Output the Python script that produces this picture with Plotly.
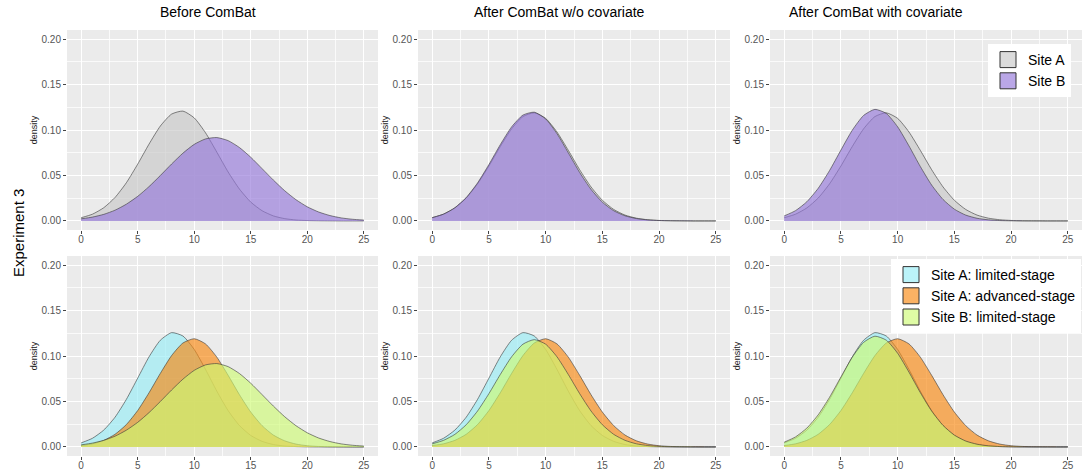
import plotly.graph_objects as go

# ---------------- data ----------------
x_vals = list(range(26))

# Experiment 3, top row: Site A / Site B
before_site_A = [0.0035, 0.0074, 0.0145, 0.0258, 0.0420, 0.0624, 0.0844, 0.1043, 0.1175, 0.1208, 0.1133, 0.0969, 0.0756,
                 0.0538, 0.0350, 0.0207, 0.0112, 0.0055, 0.0025, 0.0010, 0.0004, 0.0002, 0.0001, 0.0, 0.0, 0.0]
before_site_B = [0.0023, 0.0042, 0.0072, 0.0118, 0.0184, 0.0270, 0.0377, 0.0499, 0.0626, 0.0745, 0.0842, 0.0902, 0.0917,
                 0.0883, 0.0807, 0.0700, 0.0575, 0.0449, 0.0332, 0.0233, 0.0155, 0.0098, 0.0059, 0.0033, 0.0018, 0.0009]
nocov_site_A = [0.0035, 0.0074, 0.0143, 0.0252, 0.0408, 0.0604, 0.0818, 0.1013, 0.1148, 0.1189, 0.1128, 0.0978, 0.0776,
                0.0563, 0.0374, 0.0227, 0.0126, 0.0064, 0.0030, 0.0013, 0.0005, 0.0002, 0.0001, 0.0, 0.0, 0.0]
nocov_site_B = [0.0036, 0.0075, 0.0145, 0.0257, 0.0418, 0.0620, 0.0838, 0.1034, 0.1164, 0.1196, 0.1122, 0.0960, 0.0749,
                0.0533, 0.0347, 0.0206, 0.0112, 0.0056, 0.0026, 0.0011, 0.0004, 0.0002, 0.0001, 0.0, 0.0, 0.0]
withcov_site_A = [0.0035, 0.0074, 0.0143, 0.0252, 0.0408, 0.0604, 0.0818, 0.1013, 0.1148, 0.1189, 0.1128, 0.0978, 0.0776,
                  0.0563, 0.0374, 0.0227, 0.0126, 0.0064, 0.0030, 0.0013, 0.0005, 0.0002, 0.0001, 0.0, 0.0, 0.0]
withcov_site_B = [0.0055, 0.0113, 0.0211, 0.0359, 0.0554, 0.0779, 0.0997, 0.1160, 0.1227, 0.1182, 0.1035, 0.0825, 0.0598,
                  0.0394, 0.0236, 0.0129, 0.0064, 0.0029, 0.0012, 0.0004, 0.0001, 0.0, 0.0, 0.0, 0.0, 0.0]

# Experiment 3, bottom row: stage groups
before_A_limited = [0.0044, 0.0095, 0.0185, 0.0327, 0.0523, 0.0756, 0.0990, 0.1173, 0.1257, 0.1220, 0.1072, 0.0852, 0.0613,
                    0.0399, 0.0235, 0.0126, 0.0061, 0.0026, 0.0010, 0.0004, 0.0001, 0.0, 0.0, 0.0, 0.0, 0.0]
before_A_advanced = [0.0015, 0.0034, 0.0072, 0.0139, 0.0246, 0.0400, 0.0595, 0.0808, 0.1005, 0.1143, 0.1190, 0.1133, 0.0987,
                     0.0787, 0.0574, 0.0383, 0.0234, 0.0130, 0.0067, 0.0031, 0.0013, 0.0005, 0.0002, 0.0001, 0.0, 0.0]
before_B_limited = [0.0023, 0.0042, 0.0072, 0.0118, 0.0184, 0.0270, 0.0377, 0.0499, 0.0626, 0.0745, 0.0842, 0.0902, 0.0917,
                    0.0883, 0.0807, 0.0700, 0.0575, 0.0449, 0.0332, 0.0233, 0.0155, 0.0098, 0.0059, 0.0033, 0.0018, 0.0009]
nocov_A_limited = [0.0044, 0.0095, 0.0185, 0.0327, 0.0523, 0.0756, 0.0990, 0.1173, 0.1257, 0.1220, 0.1072, 0.0852, 0.0613,
                   0.0399, 0.0235, 0.0126, 0.0061, 0.0026, 0.0010, 0.0004, 0.0001, 0.0, 0.0, 0.0, 0.0, 0.0]
nocov_A_advanced = [0.0015, 0.0034, 0.0072, 0.0139, 0.0246, 0.0400, 0.0595, 0.0808, 0.1005, 0.1143, 0.1190, 0.1133, 0.0987,
                    0.0787, 0.0574, 0.0383, 0.0234, 0.0130, 0.0067, 0.0031, 0.0013, 0.0005, 0.0002, 0.0001, 0.0, 0.0]
nocov_B_limited = [0.0034, 0.0072, 0.0138, 0.0244, 0.0395, 0.0586, 0.0796, 0.0991, 0.1130, 0.1180, 0.1130, 0.0991, 0.0796,
                   0.0586, 0.0395, 0.0244, 0.0138, 0.0072, 0.0034, 0.0015, 0.0006, 0.0002, 0.0001, 0.0, 0.0, 0.0]
withcov_A_limited = [0.0044, 0.0095, 0.0185, 0.0327, 0.0523, 0.0756, 0.0990, 0.1173, 0.1257, 0.1220, 0.1072, 0.0852, 0.0613,
                     0.0399, 0.0235, 0.0126, 0.0061, 0.0026, 0.0010, 0.0004, 0.0001, 0.0, 0.0, 0.0, 0.0, 0.0]
withcov_A_advanced = [0.0015, 0.0034, 0.0072, 0.0139, 0.0246, 0.0400, 0.0595, 0.0808, 0.1005, 0.1143, 0.1190, 0.1133, 0.0987,
                      0.0787, 0.0574, 0.0383, 0.0234, 0.0130, 0.0067, 0.0031, 0.0013, 0.0005, 0.0002, 0.0001, 0.0, 0.0]
withcov_B_limited = [0.0052, 0.0110, 0.0207, 0.0353, 0.0546, 0.0769, 0.0986, 0.1150, 0.1218, 0.1174, 0.1030, 0.0822, 0.0597,
                     0.0394, 0.0237, 0.0130, 0.0065, 0.0030, 0.0012, 0.0004, 0.0001, 0.0, 0.0, 0.0, 0.0, 0.0]

col_titles = ["Before ComBat", "After ComBat w/o covariate", "After ComBat with covariate"]
row_label = "Experiment 3"
y_title = "density"
x_ticks = [0, 5, 10, 15, 20, 25]
y_ticks = [0.00, 0.05, 0.10, 0.15, 0.20]
y_tick_text = ["0.00", "0.05", "0.10", "0.15", "0.20"]

site_names = ["Site A", "Site B"]
stage_names = ["Site A: limited-stage", "Site A: advanced-stage", "Site B: limited-stage"]
site_colors = ["rgba(198,198,198,0.64)", "rgba(147,118,218,0.64)"]
stage_colors = ["rgba(149,237,246,0.64)", "rgba(249,135,12,0.64)", "rgba(205,251,114,0.64)"]

top_row = [[before_site_A, before_site_B], [nocov_site_A, nocov_site_B], [withcov_site_A, withcov_site_B]]
bottom_row = [[before_A_limited, before_A_advanced, before_B_limited],
              [nocov_A_limited, nocov_A_advanced, nocov_B_limited],
              [withcov_A_limited, withcov_A_advanced, withcov_B_limited]]

# ---------------- layout geometry ----------------
W, H = 1082, 471
x_domains = [[67 / W, 378 / W], [418 / W, 730 / W], [770 / W, 1.0]]
y_domains = [[1 - 230 / H, 1 - 30 / H], [1 - 456 / H, 1 - 256 / H]]
title_x = [208 / W, 559 / W, 876 / W]

FONT = "Liberation Sans, Arial, Helvetica, sans-serif"
line_style = dict(color="rgba(55,55,55,0.75)", width=0.8, shape="spline", smoothing=0.6)

fig = go.Figure()
layout = {}

panel = 0
for r, row_data in enumerate([top_row, bottom_row]):
    colors = site_colors if r == 0 else stage_colors
    for c in range(3):
        panel += 1
        ax = "" if panel == 1 else str(panel)
        for series, col in zip(row_data[c], colors):
            fig.add_trace(go.Scatter(
                x=x_vals, y=series, mode="lines", fill="tozeroy", fillcolor=col,
                line=line_style, showlegend=False, hoverinfo="skip",
                xaxis="x" + ax, yaxis="y" + ax))
        layout["xaxis" + ax] = dict(
            domain=x_domains[c], anchor="y" + ax, range=[-1.25, 26.25],
            tickvals=x_ticks, ticks="outside", ticklen=3, tickwidth=1, tickcolor="#444",
            ticklabelstandoff=-3,
            tickfont=dict(size=10, color="#555", family=FONT),
            showgrid=True, gridcolor="white", gridwidth=1.1,
            minor=dict(dtick=2.5, tick0=0, showgrid=True, gridcolor="rgba(255,255,255,0.75)", gridwidth=0.5),
            zeroline=False, showline=False, fixedrange=True)
        layout["yaxis" + ax] = dict(
            domain=y_domains[r], anchor="x" + ax, range=[-0.01, 0.21],
            tickvals=y_ticks, ticktext=y_tick_text, ticks="outside", ticklen=3, tickwidth=1, tickcolor="#444",
            tickfont=dict(size=10, color="#555", family=FONT),
            showgrid=True, gridcolor="white", gridwidth=1.1,
            minor=dict(dtick=0.025, tick0=0, showgrid=True, gridcolor="rgba(255,255,255,0.75)", gridwidth=0.5),
            zeroline=False, showline=False, fixedrange=True,
            title=dict(text=y_title, font=dict(size=9, color="#222", family=FONT), standoff=2))

# legend entries (square keys)
for name, col in zip(site_names, site_colors):
    fig.add_trace(go.Scatter(x=[None], y=[None], mode="markers", name=name,
                             marker=dict(symbol="square", size=16, color=col, line=dict(color="#333", width=1)),
                             legend="legend", xaxis="x3", yaxis="y3", showlegend=True))
for name, col in zip(stage_names, stage_colors):
    fig.add_trace(go.Scatter(x=[None], y=[None], mode="markers", name=name,
                             marker=dict(symbol="square", size=16, color=col, line=dict(color="#333", width=1)),
                             legend="legend2", xaxis="x6", yaxis="y6", showlegend=True))

annotations = []
for c, t in enumerate(col_titles):
    annotations.append(dict(text=t, x=title_x[c], y=1 - 12 / H, xref="paper", yref="paper",
                            xanchor="center", yanchor="middle", showarrow=False,
                            font=dict(size=14, color="black", family=FONT)))
annotations.append(dict(text=row_label, x=18 / W, y=1 - 233 / H, xref="paper", yref="paper",
                        xanchor="center", yanchor="middle", showarrow=False, textangle=-90,
                        font=dict(size=15, color="black", family=FONT)))

fig.update_layout(
    width=W, height=H,
    margin=dict(l=0, r=0, t=0, b=0, autoexpand=False),
    paper_bgcolor="white", plot_bgcolor="#EBEBEB",
    font=dict(family=FONT),
    annotations=annotations,
    legend=dict(x=988 / W, y=1 - 44 / H, xanchor="left", yanchor="top", bgcolor="white",
                font=dict(size=14, color="black", family=FONT), tracegroupgap=0, borderwidth=0),
    legend2=dict(x=891 / W, y=1 - 259 / H, xanchor="left", yanchor="top", bgcolor="white",
                 font=dict(size=14, color="black", family=FONT), tracegroupgap=0, borderwidth=0),
    **layout,
)

fig.write_html("out.html")
